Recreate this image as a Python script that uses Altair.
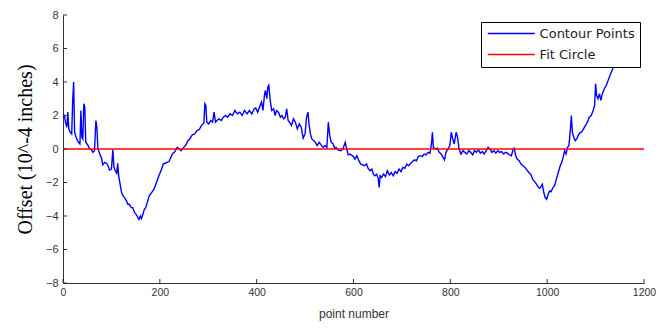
import altair as alt
import pandas as pd

# Contour points (point number, offset in 1e-4 inches)
point_number = [
    0, 3, 5, 8, 10, 12, 15, 18, 20, 22, 24, 27, 30, 32, 35, 37, 39, 41, 43, 45,
    47, 51, 55, 59, 62, 65, 68, 70, 72, 76, 80, 82, 86, 90, 93, 96, 100, 103, 105, 108,
    111, 113, 115, 117, 121, 124, 127, 131, 134, 137, 141, 144, 148, 151, 154, 157, 160, 162, 165, 168,
    171, 174, 178, 183, 188, 193, 198, 203, 207, 211, 215, 219, 222, 226, 230, 236, 240, 244, 248, 254,
    258, 262, 267, 272, 277, 281, 286, 291, 293, 295, 297, 301, 305, 309, 312, 315, 318, 322, 327, 331,
    336, 340, 345, 350, 355, 360, 365, 370, 375, 380, 385, 390, 395, 398, 402, 406, 410, 413, 416, 418,
    421, 423, 425, 428, 431, 435, 438, 441, 445, 449, 452, 456, 459, 462, 465, 468, 472, 476, 480, 484,
    488, 492, 496, 500, 503, 506, 508, 511, 514, 518, 521, 525, 529, 533, 537, 541, 545, 548, 551, 554,
    558, 561, 564, 568, 574, 578, 583, 586, 589, 593, 597, 600, 603, 607, 611, 615, 619, 623, 627, 630,
    634, 638, 641, 644, 648, 651, 653, 655, 658, 662, 666, 670, 674, 678, 682, 686, 690, 694, 698, 702,
    706, 710, 714, 718, 722, 726, 730, 734, 738, 742, 746, 750, 754, 758, 761, 763, 765, 769, 773, 777,
    781, 785, 788, 791, 795, 799, 802, 805, 808, 812, 815, 818, 822, 826, 830, 834, 838, 842, 846, 850,
    854, 858, 862, 866, 870, 874, 878, 882, 886, 890, 894, 898, 902, 906, 910, 914, 918, 922, 926, 930,
    932, 935, 938, 942, 946, 950, 954, 958, 962, 966, 970, 974, 978, 982, 985, 988, 990, 993, 996, 999,
    1002, 1005, 1008, 1012, 1015, 1018, 1021, 1024, 1027, 1030, 1033, 1036, 1039, 1042, 1045, 1048, 1050, 1052, 1055, 1058,
    1061, 1064, 1067, 1071, 1075, 1079, 1083, 1087, 1091, 1095, 1098, 1100, 1102, 1105, 1108, 1111, 1114, 1118, 1122, 1126,
    1130, 1134, 1138, 1142,
]
offset = [
    1.9, 2.0, 1.6, 1.3, 2.2, 1.2, 1.0, 0.9, 2.9, 4.0, 1.0, 0.7, 0.5, 0.4, 0.3, 2.3, 0.7, 0.6, 2.7, 2.5,
    0.4, 0.25, 0.0, -0.05, -0.2, -0.1, 1.7, 1.3, 0.05, -0.3, -0.6, -0.95, -0.8, -0.85, -1.0, -1.25, -1.2, -0.05, -1.05, -1.3,
    -1.45, -0.85, -1.6, -1.95, -2.6, -2.8, -2.9, -3.1, -3.3, -3.3, -3.5, -3.5, -3.8, -3.9, -4.05, -4.2, -4.0, -4.15, -3.9, -3.6,
    -3.5, -3.2, -2.8, -2.6, -2.4, -2.0, -1.6, -1.25, -0.9, -0.85, -0.8, -0.75, -0.55, -0.3, -0.2, 0.1, 0.0, -0.1, 0.05, 0.25,
    0.5, 0.6, 0.85, 0.9, 1.1, 1.15, 1.4, 1.55, 2.7, 2.6, 1.6, 1.5, 1.7, 1.6, 2.2, 1.6, 1.7, 1.8, 1.7, 1.9,
    2.0, 1.9, 2.1, 2.0, 2.3, 2.1, 2.2, 2.0, 2.3, 2.1, 2.3, 2.1, 2.4, 2.45, 2.2, 2.5, 2.8, 2.3, 3.2, 3.5,
    3.0, 3.7, 3.8, 2.9, 2.3, 2.4, 2.0, 2.3, 2.2, 1.9, 2.0, 1.8, 1.9, 2.4, 1.7, 1.6, 1.4, 1.8, 1.6, 1.2,
    1.5, 1.3, 0.65, 0.9, 1.9, 2.2, 1.5, 0.9, 0.6, 0.5, 0.4, 0.2, 0.4, 0.25, 0.1, 0.2, 0.1, 1.6, 0.8, 0.4,
    0.3, 0.05, 0.1, -0.05, -0.1, 0.0, 0.4, 0.0, -0.35, -0.3, -0.4, -0.45, -0.6, -0.4, -0.7, -0.9, -0.95, -1.0, -0.9, -1.15,
    -1.3, -1.2, -1.5, -1.6, -1.5, -1.75, -2.3, -1.6, -1.7, -1.5, -1.65, -1.3, -1.55, -1.4, -1.6, -1.35, -1.45, -1.2, -1.35, -1.1,
    -1.15, -0.9, -1.0, -0.85, -0.75, -0.65, -0.7, -0.45, -0.4, -0.45, -0.3, -0.35, -0.2, -0.25, 0.3, 1.0, 0.1, 0.0, 0.05, -0.2,
    -0.3, -0.5, -0.65, -0.2, 0.0, 0.2, 1.0, 0.6, 0.3, 1.0, 0.7, 0.0, -0.3, -0.1, -0.2, -0.3, -0.1, -0.2, -0.35, -0.1,
    -0.2, -0.05, -0.25, -0.15, -0.3, -0.1, 0.1, 0.0, -0.2, -0.1, -0.25, -0.1, -0.2, -0.15, -0.3, -0.2, -0.25, -0.35, -0.4, 0.0,
    0.05, -0.4, -0.6, -0.7, -0.9, -1.0, -1.1, -1.25, -1.4, -1.5, -1.8, -1.95, -2.1, -2.3, -2.35, -2.2, -2.1, -2.6, -2.9, -3.0,
    -2.7, -2.5, -2.55, -2.3, -2.2, -1.9, -1.6, -1.3, -1.0, -0.8, -0.5, -0.1, -0.3, 0.1, 0.2, 1.2, 2.0, 1.0, 0.7, 0.5,
    0.6, 0.8, 0.95, 1.0, 1.2, 1.4, 1.6, 1.9, 2.0, 2.3, 2.6, 3.9, 3.2, 3.0, 3.3, 2.9, 3.3, 3.6, 3.8, 4.1,
    4.4, 4.7, 4.95, 5.2,
]

# Fit circle (reference line)
fit_x = [0, 1200]
fit_y = [0, 0]

series_names = ["Contour Points", "Fit Circle"]
series_colors = ["#0000ff", "#ff0000"]

x_ticks = [0, 200, 400, 600, 800, 1000, 1200]
y_ticks = [-8, -6, -4, -2, 0, 2, 4, 6, 8]

df = pd.concat([
    pd.DataFrame({"x": point_number, "y": offset, "series": series_names[0]}),
    pd.DataFrame({"x": fit_x, "y": fit_y, "series": series_names[1]}),
], ignore_index=True)

W, H = 581, 268
xs = alt.Scale(domain=[0, 1200], nice=False, zero=False)
ys = alt.Scale(domain=[-8, 8], nice=False, zero=False)
SANS = "Liberation Sans"
AXC = "#333333"

x_axis = alt.Axis(
    values=x_ticks, format="d", title="point number", ticks=False, grid=False,
    labelFont=SANS, labelFontSize=10.5, labelColor=AXC, labelPadding=4,
    titleFont=SANS, titleFontSize=12, titleColor=AXC, titleFontWeight="normal",
    titlePadding=11, domainColor=AXC, labelFlush=False)
y_axis = alt.Axis(
    values=y_ticks, format="d", title="Offset (10^-4 inches)", ticks=False, grid=False,
    labelFont=SANS, labelFontSize=11, labelColor=AXC, labelPadding=5,
    titleFont="Liberation Serif", titleFontSize=20, titleColor="#000000",
    titleFontWeight="normal", titlePadding=10, domainColor=AXC, labelFlush=False)

# legend symbol: a long horizontal stroke, shifted so it starts at the symbol column
R = 4.7
lines = alt.Chart(df).mark_line(strokeWidth=1.4).encode(
    x=alt.X("x:Q", scale=xs, axis=x_axis),
    y=alt.Y("y:Q", scale=ys, axis=y_axis),
    color=alt.Color("series:N", scale=alt.Scale(domain=series_names, range=series_colors),
                    legend=alt.Legend(
                        title=None, orient="none", legendX=418, legendY=7,
                        strokeColor="#000000", fillColor="#ffffff", padding=5,
                        symbolType="M-1,0H9", symbolSize=(2 * R) ** 2, symbolStrokeWidth=1.3,
                        labelFont="DejaVu Sans", labelFontSize=13, labelColor="#222222",
                        labelOffset=8 * R + 3, rowPadding=7)),
)

xt = alt.Chart(pd.DataFrame({"x": x_ticks})).mark_rule(color=AXC).encode(
    x=alt.X("x:Q", scale=xs, axis=x_axis), y=alt.value(H), y2=alt.value(H - 4))
yt = alt.Chart(pd.DataFrame({"y": y_ticks})).mark_rule(color=AXC).encode(
    y=alt.Y("y:Q", scale=ys, axis=y_axis), x=alt.value(0), x2=alt.value(4))

chart = alt.layer(lines, xt, yt).properties(
    width=W, height=H,
    padding={"left": 55, "top": 7, "right": 12, "bottom": 38},
    autosize=alt.AutoSizeParams(type="none"),
    background="white",
).configure_view(stroke=None)

chart.save("out.html", embed_options={"renderer": "svg", "actions": False})
